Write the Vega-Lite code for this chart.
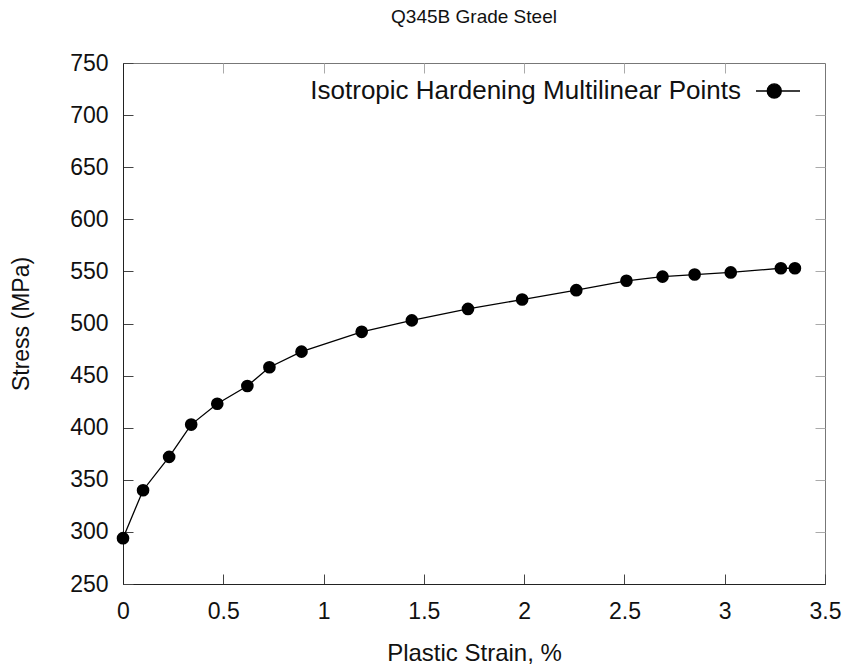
{
  "$schema": "https://vega.github.io/schema/vega-lite/v6.json",
  "autosize": {"type": "none"},
  "width": 702,
  "height": 521,
  "padding": {"left": 123, "top": 63, "right": 23, "bottom": 86},
  "background": "white",
  "title": {"text": "Q345B Grade Steel", "font": "Liberation Sans", "fontSize": 19, "fontWeight": "normal", "color": "#111", "offset": 25, "anchor": "middle"},
  "config": {
    "view": {"stroke": "#777", "strokeWidth": 1},
    "font": "Liberation Sans"
  },
  "data": {"values": [
    {"strain": 0.0, "stress": 294, "series": "Isotropic Hardening Multilinear Points"},
    {"strain": 0.1, "stress": 340, "series": "Isotropic Hardening Multilinear Points"},
    {"strain": 0.23, "stress": 372, "series": "Isotropic Hardening Multilinear Points"},
    {"strain": 0.34, "stress": 403, "series": "Isotropic Hardening Multilinear Points"},
    {"strain": 0.47, "stress": 423, "series": "Isotropic Hardening Multilinear Points"},
    {"strain": 0.62, "stress": 440, "series": "Isotropic Hardening Multilinear Points"},
    {"strain": 0.73, "stress": 458, "series": "Isotropic Hardening Multilinear Points"},
    {"strain": 0.89, "stress": 473, "series": "Isotropic Hardening Multilinear Points"},
    {"strain": 1.19, "stress": 492, "series": "Isotropic Hardening Multilinear Points"},
    {"strain": 1.44, "stress": 503, "series": "Isotropic Hardening Multilinear Points"},
    {"strain": 1.72, "stress": 514, "series": "Isotropic Hardening Multilinear Points"},
    {"strain": 1.99, "stress": 523, "series": "Isotropic Hardening Multilinear Points"},
    {"strain": 2.26, "stress": 532, "series": "Isotropic Hardening Multilinear Points"},
    {"strain": 2.51, "stress": 541, "series": "Isotropic Hardening Multilinear Points"},
    {"strain": 2.69, "stress": 545, "series": "Isotropic Hardening Multilinear Points"},
    {"strain": 2.85, "stress": 547, "series": "Isotropic Hardening Multilinear Points"},
    {"strain": 3.03, "stress": 549, "series": "Isotropic Hardening Multilinear Points"},
    {"strain": 3.28, "stress": 553, "series": "Isotropic Hardening Multilinear Points"},
    {"strain": 3.35, "stress": 553, "series": "Isotropic Hardening Multilinear Points"}
  ]},
  "layer": [
    {
      "encoding": {
        "x": {"field": "strain", "type": "quantitative",
          "scale": {"domain": [0, 3.5], "nice": false, "zero": false},
          "axis": {"title": "Plastic Strain, %", "values": [0, 0.5, 1, 1.5, 2, 2.5, 3, 3.5], "format": "~g",
            "grid": false, "domainColor": "#222", "tickColor": "#444", "tickSize": -10, "labelPadding": 26,
            "labelFontSize": 23, "labelColor": "#111", "titleFontSize": 24, "titleFontWeight": "normal", "titleColor": "#111", "titlePadding": 18, "labelFlush": false}},
        "y": {"field": "stress", "type": "quantitative",
          "scale": {"domain": [250, 750], "nice": false, "zero": false},
          "axis": {"title": "Stress (MPa)", "values": [250, 300, 350, 400, 450, 500, 550, 600, 650, 700, 750],
            "grid": false, "domainColor": "#222", "tickColor": "#444", "tickSize": -10, "labelPadding": 25,
            "labelFontSize": 23, "labelColor": "#111", "titleFontSize": 23, "titleFontWeight": "normal", "titleColor": "#111", "titlePadding": 36, "labelFlush": false}},
        "color": {"field": "series", "type": "nominal",
          "scale": {"range": ["#000000"]},
          "legend": {"title": null, "orient": "none", "legendX": 632, "legendY": 5,
            "symbolType": "M-1,0H1M0.15,0A0.32,0.32,0,1,1,-0.49,0A0.32,0.32,0,1,1,0.15,0Z",
            "symbolSize": 1936, "symbolFillColor": "#000", "symbolStrokeColor": "#000", "symbolStrokeWidth": 1.3,
            "labelAlign": "right", "labelOffset": -60, "labelFontSize": 26, "labelColor": "#111", "labelLimit": 700}}
      },
      "layer": [
        {"mark": {"type": "line", "strokeWidth": 1.3}},
        {"mark": {"type": "point", "filled": true, "size": 160, "opacity": 1}}
      ]
    },
    {
      "mark": {"type": "point", "opacity": 0},
      "encoding": {
        "x": {"field": "strain", "type": "quantitative",
          "axis": {"orient": "top", "title": null, "labels": false, "values": [0.5, 1, 1.5, 2, 2.5, 3], "grid": false, "domain": false, "tickColor": "#aaa", "tickSize": -10}},
        "y": {"field": "stress", "type": "quantitative",
          "axis": {"orient": "right", "title": null, "labels": false, "values": [300, 350, 400, 450, 500, 550, 600, 650, 700], "grid": false, "domain": false, "tickColor": "#aaa", "tickSize": -10}}
      }
    }
  ],
  "resolve": {"axis": {"x": "independent", "y": "independent"}}
}
